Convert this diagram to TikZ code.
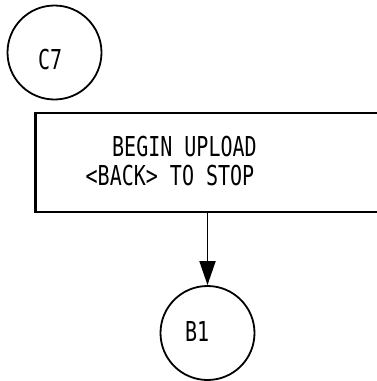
\documentclass[tikz,border=0pt]{standalone}
\usepackage{fontspec}
\newfontfamily\dmono[FakeStretch=0.73]{DejaVu Sans Mono}
\usetikzlibrary{arrows.meta}
\begin{document}
\begin{tikzpicture}[x=1pt,y=1pt,
  conn/.style={draw, circle, line width=1.8pt, minimum size=94pt, inner sep=0pt},
  lbl/.style={anchor=base west, inner sep=0pt, font=\dmono\fontsize{27.4}{30}\selectfont},
  boxstyle/.style={draw, line width=2.8pt, minimum width=344pt, minimum height=99pt, inner sep=0pt},
  flow/.style={line width=1.8pt, -{Triangle[length=24pt,width=16pt]}}]
\useasboundingbox (0,0) rectangle (377,-381);
\clip (0,0) rectangle (377,-381);
\node[conn] (c7) at (54.5,-52.5) {};
\node[lbl] (c7t) at (38,-69) {C7};
\node[boxstyle] (box) at (207.5,-162.5) {};
\node[lbl] (l1) at (112,-156) {BEGIN UPLOAD};
\node[lbl] (l2) at (85.5,-185) {<BACK> TO STOP};
\node[conn] (b1) at (207.5,-333) {};
\node[lbl] (b1t) at (185,-341) {B1};
\draw[flow] (box.south) -- (b1.north);
\end{tikzpicture}
\end{document}
